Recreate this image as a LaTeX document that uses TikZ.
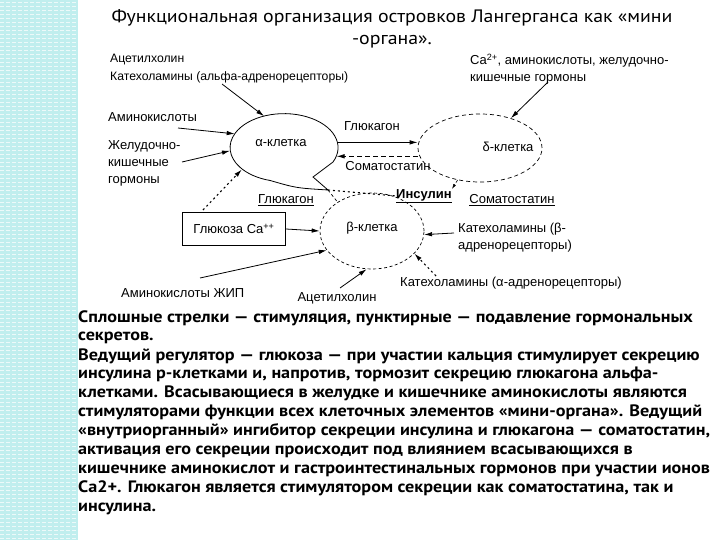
\documentclass[tikz,border=0pt]{standalone}
\usepackage{fontspec}
\setmainfont{Liberation Sans}
\newfontfamily\txtfont[FakeStretch=1.1]{PT Sans}
\usetikzlibrary{shapes.geometric,arrows.meta}
\definecolor{stripe}{RGB}{192,238,238}
\begin{document}
\begin{tikzpicture}[x=1pt,y=-1pt,
  lbl/.style={font=\fontsize{13}{17}\selectfont, inner sep=0pt},
  small/.style={font=\fontsize{12.2}{17}\selectfont},
  arr/.style={-{Latex[length=8pt,width=4.5pt]}, line width=0.8pt},
  inh/.style={arr, dash pattern=on 5pt off 3pt},
  dotarr/.style={arr, dash pattern=on 2pt off 3pt, line width=1.1pt},
  para/.style={anchor=base west, inner sep=0pt, font=\txtfont\bfseries\fontsize{16.5}{19}\selectfont},
  cell/.style={ellipse, inner sep=0pt},
]
\useasboundingbox (0,0) rectangle (720,540);
\fill[white] (0,0) rectangle (720,540);
\fill[stripe] (0,0) rectangle (78,540);
\foreach \yy in {2,6,...,538} \draw[white, line width=0.9pt, dash pattern=on 4pt off 2pt, opacity=0.7] (0,\yy) -- (78,\yy);

% title
\node[font=\txtfont\fontsize{18}{22}\selectfont, align=center] (title) at (392,29) {Функциональная организация островков Лангерганса как «мини\\-органа».};

% cells
\node[cell, minimum width=108pt, minimum height=68pt] (alpha) at (284,148) {};
\draw[line width=0.8pt] (333,162) arc[start angle=-25, end angle=255, x radius=54pt, y radius=34pt]
  .. controls (296,188) .. (328,190) -- (313,177) -- cycle;
\coordinate (tip) at (328,190);
\node[lbl] (alphatxt) at (281,143) {α-клетка};

\node[cell, draw, dash pattern=on 4pt off 3pt, line width=0.7pt, minimum width=124pt, minimum height=68pt] (delta) at (480,148) {};
\node[lbl] (deltatxt) at (508,147) {δ-клетка};

\node[cell, draw, dash pattern=on 3pt off 2.5pt, line width=0.7pt, minimum width=104pt, minimum height=76pt] (beta) at (372,231) {};
\node[lbl] (betatxt) at (372,228) {β-клетка};

% labels
\node[lbl, small, anchor=west] (acet1) at (110,60) {Ацетилхолин};
\node[lbl, small, anchor=west] (cat1) at (110,77) {Катехоламины (альфа-адренорецепторы)};
\node[lbl, anchor=west, align=left] (ca) at (470,69) {Ca\textsuperscript{2+}, аминокислоты, желудочно-\\кишечные гормоны};
\node[lbl, anchor=west] (amino) at (108,117) {Аминокислоты};
\node[lbl, anchor=west, align=left] (gi) at (108,163) {Желудочно-\\кишечные\\гормоны};
\node[lbl] (glucag1) at (372,126) {Глюкагон};
\node[lbl] (soma1) at (388,166) {Соматостатин};
\node[lbl] (glucag2) at (286,200) {\underline{Глюкагон}};
\node[lbl] (insul) at (424,196) {\underline{\bfseries Инсулин}};
\node[lbl] (soma2) at (512,200) {\underline{Соматостатин}};
\node[lbl, draw, line width=0.8pt, minimum width=103pt, minimum height=33pt] (gluc) at (234,229) {Глюкоза Ca\textsuperscript{++}};
\node[lbl, anchor=west] (aminozhip) at (121,293) {Аминокислоты ЖИП};
\node[lbl] (acet2) at (337,298) {Ацетилхолин};
\node[lbl, anchor=west, align=left] (catb) at (458,238) {Катехоламины (β-\\адренорецепторы)};
\node[lbl, anchor=west] (cata) at (400,283) {Катехоламины (α-адренорецепторы)};

% free ends
\coordinate (c1) at (222,84);
\coordinate (c2) at (548,82);
\coordinate (c3) at (178,128);
\coordinate (c4) at (182,162);
\coordinate (c5) at (203,210);
\coordinate (c6) at (200,278);
\coordinate (c7) at (340,288);
\coordinate (c8) at (454,233);
\coordinate (c9) at (436,276);

% connectors
\draw[arr] (c1) -- (alpha.122);
\draw[arr] (c2) -- (delta.44);
\draw[arr] (c3) -- (alpha.164);
\draw[arr] (c4) -- (alpha.183);
\draw[dotarr] (c5) -- (alpha.207);
\draw[arr] (alpha.6) -- (delta.west |- alpha.6);
\draw[inh] (delta.west |- alpha.-9) -- (alpha.-9);
\draw[arr] (gluc.east) -- (beta.west);
\draw[arr] (c6) -- (beta.203);
\draw[arr] (c7) -- (beta.262);
\draw[arr] (c8) -- (beta.-4);
\draw[dotarr] (c9) -- (beta.-28);
\draw[dash pattern=on 3pt off 2.5pt, line width=0.7pt] (tip) -- (beta.140);
\draw[dash pattern=on 2pt off 3pt, line width=1.1pt] (tip) -- (insul.west);
\draw[-{Latex[length=5pt,width=3pt]}, dash pattern=on 3pt off 2pt, line width=0.6pt] (delta.-125) -- (insul.north east);

% paragraph
\node[para] (p1) at (78,322) {Сплошные стрелки — стимуляция, пунктирные — подавление гормональных};
\node[para] (p2) at (78,340) {секретов.};
\node[para] (p3) at (78,360) {Ведущий регулятор — глюкоза — при участии кальция стимулирует секрецию};
\node[para] (p4) at (78,378) {инсулина р-клетками и, напротив, тормозит секрецию глюкагона альфа-};
\node[para] (p5) at (78,397) {клетками. Всасывающиеся в желудке и кишечнике аминокислоты являются};
\node[para] (p6) at (78,416) {стимуляторами функции всех клеточных элементов «мини-органа». Ведущий};
\node[para] (p7) at (78,435) {«внутриорганный» ингибитор секреции инсулина и глюкагона — соматостатин,};
\node[para] (p8) at (78,454) {активация его секреции происходит под влиянием всасывающихся в};
\node[para] (p9) at (78,473) {кишечнике аминокислот и гастроинтестинальных гормонов при участии ионов};
\node[para] (p10) at (78,492) {Са2+. Глюкагон является стимулятором секреции как соматостатина, так и};
\node[para] (p11) at (78,511) {инсулина.};
\end{tikzpicture}
\end{document}
